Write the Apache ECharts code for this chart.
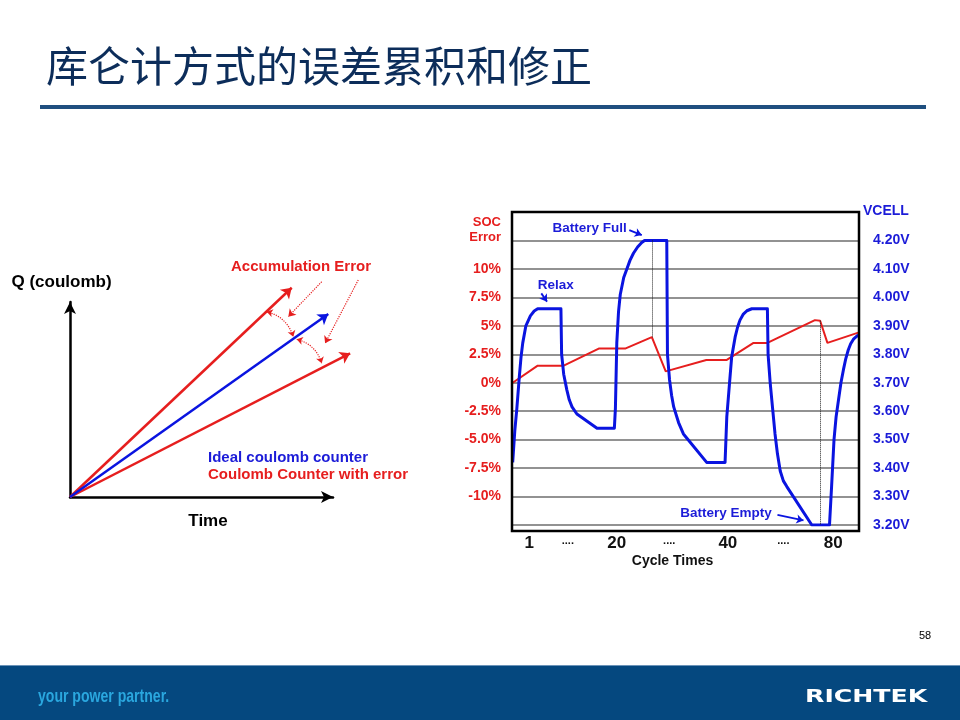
<!DOCTYPE html>
<html>
<head>
<meta charset="utf-8">
<title>库仑计方式的误差累积和修正</title>
<script src="https://cdn.jsdelivr.net/npm/echarts@6/dist/echarts.min.js"></script>
<style>
  html, body { margin: 0; padding: 0; background: #fff; }
  #chart { width: 960px; height: 720px; }
</style>
</head>
<body>
<div id="chart"></div>
<script>
// ---- right chart: cycle position (0..100 across the plot) ----
const cycleTickPos = [5, 16.1, 30.2, 45.3, 62.2, 78.2, 92.6];
const cycleTickLabels = ['1', '....', '20', '....', '40', '....', '80'];

// SOC error axis (left, %)
const socTickValues = [-10, -7.5, -5, -2.5, 0, 2.5, 5, 7.5, 10];
const socTickLabels = ['-10%', '-7.5%', '-5.0%', '-2.5%', '0%', '2.5%', '5%', '7.5%', '10%'];

// VCELL curve [cycle position, volts]
const vcellCurve = [
    [0.2, 3.42], [0.8, 3.53], [1.4, 3.61], [2.1, 3.72], [2.6, 3.79], [3.1, 3.84], [4.0, 3.90],
    [5.3, 3.935], [6.4, 3.952], [7.4, 3.96], [14.1, 3.96], [14.3, 3.80], [14.9, 3.73],
    [15.8, 3.675], [16.5, 3.64], [17.3, 3.615], [18.7, 3.59], [24.5, 3.54], [29.5, 3.54],
    [29.8, 3.61], [30.2, 3.84], [30.7, 3.95], [31.2, 4.01], [32.2, 4.07], [33.1, 4.10],
    [34.0, 4.13], [35.0, 4.155], [36.2, 4.177], [37.4, 4.193], [38.2, 4.20], [44.6, 4.20],
    [44.8, 3.80], [45.4, 3.71], [46.0, 3.655], [46.6, 3.615], [48.0, 3.56], [49.4, 3.52],
    [56.1, 3.42], [61.4, 3.42], [61.9, 3.58], [62.7, 3.70], [63.3, 3.79], [64.3, 3.86],
    [65.0, 3.895], [65.7, 3.92], [66.6, 3.94], [67.7, 3.953], [69.1, 3.96], [73.6, 3.96],
    [73.8, 3.80], [74.4, 3.70], [75.1, 3.61], [75.8, 3.52], [76.5, 3.45], [77.3, 3.39],
    [78.2, 3.355], [79.2, 3.335], [86.4, 3.20], [91.5, 3.20], [92.1, 3.335], [92.8, 3.50],
    [93.4, 3.58], [94.1, 3.64], [94.8, 3.70], [95.5, 3.745], [96.2, 3.785], [96.9, 3.815],
    [97.6, 3.837], [98.4, 3.853], [99.8, 3.868]
];

// SOC error curve [cycle position, %]
const socErrorCurve = [
    [0.2, 0], [7.4, 1.5], [14.9, 1.5], [25.0, 3.0], [32.6, 3.0], [40.3, 4.0],
    [44.3, 1.0], [56.0, 2.0], [61.9, 2.0], [69.6, 3.5], [73.6, 3.5], [87.3, 5.5],
    [88.8, 5.45], [90.9, 3.5], [99.8, 4.4]
];

// dotted reset markers [cycle position, %]
const fullResetMark = [[40.3, 12.5], [40.3, 4.0]];
const emptyResetMark = [[88.8, 5.45], [88.8, -12.5]];

// annotations [text position], [arrow from, arrow to] in cycle/volts
const noteNames = ['Battery Full', 'Relax', 'Battery Empty'];
const notePos = [[22.4, 4.242], [12.6, 4.041], [61.7, 3.242]];
const noteArrows = [
    [[33.8, 4.236], [37.4, 4.219]],
    [[8.45, 4.014], [10.1, 3.985]],
    [[76.5, 3.236], [84.0, 3.216]]
];

// ---- left diagram: charge vs time (0..100 units) ----
const idealCounter = [[0, 0], [98.2, 93.8]];
const errorCounterHigh = [[0, 0], [84.3, 107.3]];
const errorCounterLow = [[0, 0], [106.5, 73.7]];
const errorArcs = [[[74.8, 95.0], [84.9, 82.2]], [[86.2, 80.9], [95.7, 68.6]]];
const errorPointers = [[[95.7, 110.4], [83.0, 92.5]], [[109.6, 111.3], [97.0, 78.8]]];

const RED = '#e61e1e';
const BLUE = '#0a14e0';
const TEXT_BLUE = '#1c1cd8';
const FONT = '"Liberation Sans", Arial, sans-serif';

const chart = echarts.init(document.getElementById('chart'));

const option = {
    animation: false,
    backgroundColor: '#fff',
    grid: [
        { left: 70, top: 302, width: 263, height: 195, outerBoundsMode: 'none' },
        { left: 512, top: 212, width: 347, height: 313, outerBoundsMode: 'none' }
    ],
    xAxis: [
        {
            gridIndex: 0, type: 'value', min: 0, max: 100,
            name: 'Time', nameLocation: 'middle', nameGap: 16,
            nameTextStyle: { color: '#000', fontFamily: FONT, fontWeight: 'bold', fontSize: 17, padding: [0, 0, 0, 13] },
            axisLine: { show: true, symbol: ['none', 'arrow'], symbolSize: [9, 12], lineStyle: { color: '#000', width: 2.5 } },
            axisTick: { show: false }, axisLabel: { show: false }, splitLine: { show: false }
        },
        {
            gridIndex: 1, type: 'value', min: 0, max: 100,
            name: 'Cycle Times', nameLocation: 'middle', nameGap: 29,
            nameTextStyle: { color: '#111', fontFamily: FONT, fontWeight: 'bold', fontSize: 14, padding: [0, 26, 0, 0] },
            axisLine: { show: false }, axisTick: { show: false }, splitLine: { show: false },
            axisLabel: {
                customValues: cycleTickPos,
                margin: 10,
                color: '#111', fontFamily: FONT, fontWeight: 'bold', fontSize: 17,
                formatter: (v) => {
                    const label = cycleTickLabels[cycleTickPos.indexOf(v)] || '';
                    return label === '....' ? '{dot|' + label + '}' : label;
                },
                rich: { dot: { fontSize: 11, fontWeight: 'bold', color: '#111', fontFamily: FONT, padding: [0, 0, 4, 0] } }
            }
        }
    ],
    yAxis: [
        {
            gridIndex: 0, type: 'value', min: 0, max: 100,
            name: 'Q (coulomb)', nameLocation: 'end', nameGap: 11,
            nameTextStyle: { color: '#000', fontFamily: FONT, fontWeight: 'bold', fontSize: 17, padding: [0, 17, 0, 0] },
            axisLine: { show: true, symbol: ['none', 'arrow'], symbolSize: [9, 12], lineStyle: { color: '#000', width: 2.5 } },
            axisTick: { show: false }, axisLabel: { show: false }, splitLine: { show: false }
        },
        {
            gridIndex: 1, type: 'value', position: 'left', min: -12.5, max: 15, interval: 2.5,
            name: 'SOC\nError', nameLocation: 'end', nameGap: -18,
            nameTextStyle: { color: RED, fontFamily: FONT, fontWeight: 'bold', fontSize: 13, lineHeight: 15, align: 'right', verticalAlign: 'middle', padding: [0, 11, 0, 0] },
            axisLine: { show: false }, axisTick: { show: false },
            splitLine: { show: true, lineStyle: { color: '#6e6e6e', width: 1.5 } },
            axisLabel: {
                margin: 11, color: RED, fontFamily: FONT, fontWeight: 'bold', fontSize: 14,
                formatter: (v) => socTickLabels[socTickValues.indexOf(v)] || ''
            }
        },
        {
            gridIndex: 1, type: 'value', position: 'right', min: 3.2, max: 4.3, interval: 0.1,
            name: 'VCELL', nameLocation: 'end', nameGap: 1,
            nameTextStyle: { color: TEXT_BLUE, fontFamily: FONT, fontWeight: 'bold', fontSize: 14, align: 'left', verticalAlign: 'middle', padding: [0, 0, 0, 4] },
            axisLine: { show: false }, axisTick: { show: false }, splitLine: { show: false },
            axisLabel: {
                margin: 14, color: TEXT_BLUE, fontFamily: FONT, fontWeight: 'bold', fontSize: 14,
                formatter: (v) => (v > 4.25 ? '' : v.toFixed(2) + 'V')
            }
        }
    ],
    series: [
        // left diagram
        {
            type: 'lines', coordinateSystem: 'cartesian2d', xAxisIndex: 0, yAxisIndex: 0, clip: false,
            symbol: ['none', 'arrow'], symbolSize: 10,
            lineStyle: { color: RED, width: 2.5, opacity: 1 },
            data: [{ coords: errorCounterHigh }, { coords: errorCounterLow }]
        },
        {
            type: 'lines', coordinateSystem: 'cartesian2d', xAxisIndex: 0, yAxisIndex: 0, clip: false,
            symbol: ['none', 'arrow'], symbolSize: 10,
            lineStyle: { color: BLUE, width: 2.5, opacity: 1 },
            data: [{ coords: idealCounter }]
        },
        {
            type: 'lines', coordinateSystem: 'cartesian2d', xAxisIndex: 0, yAxisIndex: 0, clip: false,
            symbol: ['arrow', 'arrow'], symbolSize: 6,
            lineStyle: { color: RED, width: 1.2, type: 'dotted', curveness: 0.28, opacity: 1 },
            data: errorArcs.map((c) => ({ coords: c }))
        },
        {
            type: 'lines', coordinateSystem: 'cartesian2d', xAxisIndex: 0, yAxisIndex: 0, clip: false,
            symbol: ['none', 'arrow'], symbolSize: 7,
            lineStyle: { color: RED, width: 1.2, type: 'dotted', opacity: 1 },
            data: errorPointers.map((c) => ({ coords: c }))
        },
        // right chart
        {
            name: 'SOC Error', type: 'line', xAxisIndex: 1, yAxisIndex: 1,
            data: socErrorCurve, showSymbol: false, symbol: 'none', z: 3,
            lineStyle: { color: RED, width: 2 },
            markLine: {
                silent: true, symbol: 'none', label: { show: false },
                lineStyle: { color: '#222', width: 1, type: 'dotted' },
                data: [
                    [{ coord: fullResetMark[0] }, { coord: fullResetMark[1] }],
                    [{ coord: emptyResetMark[0] }, { coord: emptyResetMark[1] }]
                ]
            }
        },
        {
            name: 'VCELL', type: 'line', xAxisIndex: 1, yAxisIndex: 2,
            data: vcellCurve, showSymbol: false, symbol: 'none', z: 4,
            lineStyle: { color: BLUE, width: 3, join: 'round' },
            markLine: {
                silent: true, symbol: ['none', 'arrow'], symbolSize: 7, label: { show: false },
                lineStyle: { color: BLUE, width: 1.8, type: 'solid' },
                data: noteArrows.map((a) => [{ coord: a[0] }, { coord: a[1] }])
            },
            markPoint: {
                silent: true, symbol: 'circle', symbolSize: 1,
                itemStyle: { color: 'transparent' },
                label: {
                    show: true, position: 'inside', formatter: '{b}',
                    color: TEXT_BLUE, fontFamily: FONT, fontWeight: 'bold', fontSize: 13.5
                },
                data: noteNames.map((n, i) => ({ name: n, coord: notePos[i] }))
            }
        }
    ],
    graphic: [
        // slide title and rule
        {
            type: 'text', x: 46, y: 66,
            style: { text: '库仑计方式的误差累积和修正', fill: '#0c2d5a', font: '42px "Noto Sans CJK SC", sans-serif', textVerticalAlign: 'middle' }
        },
        { type: 'rect', shape: { x: 40, y: 105, width: 886, height: 4 }, style: { fill: '#1f4f7f' } },
        // plot frame of right chart
        {
            type: 'rect', z: 10, shape: { x: 512, y: 212, width: 347, height: 319 },
            style: { fill: 'none', stroke: '#000', lineWidth: 2.5 }
        },
        // left diagram labels
        {
            type: 'text', x: 231, y: 267,
            style: { text: 'Accumulation Error', fill: RED, font: 'bold 15px ' + FONT, textVerticalAlign: 'middle' }
        },
        {
            type: 'text', x: 208, y: 458,
            style: { text: 'Ideal coulomb counter', fill: TEXT_BLUE, font: 'bold 15px ' + FONT, textVerticalAlign: 'middle' }
        },
        {
            type: 'text', x: 208, y: 475,
            style: { text: 'Coulomb Counter with error', fill: RED, font: 'bold 15px ' + FONT, textVerticalAlign: 'middle' }
        },
        // page number and footer
        {
            type: 'text', x: 919, y: 636,
            style: { text: '58', fill: '#000', font: '11px ' + FONT, textVerticalAlign: 'middle' }
        },
        { type: 'rect', shape: { x: 0, y: 665, width: 960, height: 55 }, style: { fill: '#05487f' } },
        { type: 'rect', shape: { x: 0, y: 665, width: 960, height: 1 }, style: { fill: '#6b93b8' } },
        {
            type: 'text', x: 38, y: 697, scaleX: 0.74,
            style: { text: 'your power partner.', fill: '#2aa7df', font: 'bold 19px ' + FONT, textVerticalAlign: 'middle' }
        },
        {
            type: 'text', x: 805, y: 697, scaleX: 1.4,
            style: { text: 'RICHTEK', fill: '#fff', font: 'bold 18px "DejaVu Sans", sans-serif', textVerticalAlign: 'middle' }
        }
    ]
};

chart.setOption(option);
</script>
</body>
</html>
